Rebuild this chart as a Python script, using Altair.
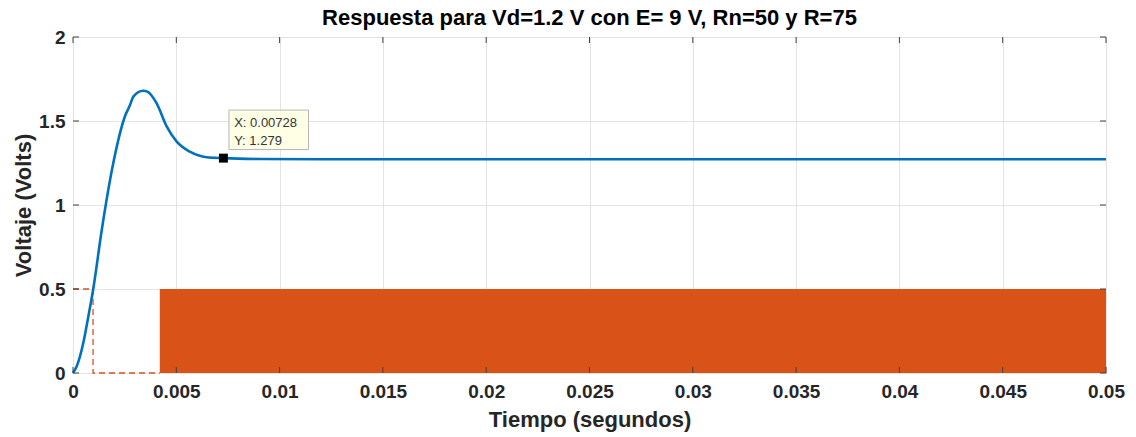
import altair as alt
import pandas as pd

# ---- data ----
resp_t = [0, 0.00018, 0.0005, 0.00074, 0.00098, 0.00139, 0.00195, 0.00252, 0.00276,
          0.00292, 0.0034, 0.0036, 0.00405, 0.00454, 0.00502, 0.00566, 0.00647,
          0.00728, 0.009, 0.012, 0.02, 0.05]
resp_v = [0, 0.04, 0.18, 0.335, 0.50, 0.85, 1.25, 1.53, 1.595,
          1.645, 1.68, 1.675, 1.605, 1.466, 1.377, 1.317, 1.284,
          1.279, 1.274, 1.272, 1.272, 1.272]

pwm_step_t = [0, 0.00097, 0.00097, 0.0042]
pwm_step_v = [0.5, 0.5, 0, 0]
pwm_fill_t = [0.0042]
pwm_fill_t2 = [0.05]
pwm_fill_lo = [0]
pwm_fill_hi = [0.5]

tip_x = [0.00728]
tip_y = [1.279]
tip_lines = ["X: 0.00728", "Y: 1.279"]
tip_line_y = [1.49, 1.38]
tip_box_x = [0.00755]
tip_box_x2 = [0.0114]
tip_box_y = [1.33]
tip_box_y2 = [1.565]
tip_text_x = [0.0078, 0.0078]

x_ticks = [0, 0.005, 0.01, 0.015, 0.02, 0.025, 0.03, 0.035, 0.04, 0.045, 0.05]
y_ticks = [0, 0.5, 1, 1.5, 2]

title = "Respuesta para Vd=1.2 V con E= 9 V, Rn=50 y R=75"
x_title = "Tiempo (segundos)"
y_title = "Voltaje (Volts)"

BLUE = "#0072BD"
ORANGE = "#D95319"
FONT = "Liberation Sans"
W, H = 1033, 336

resp = pd.DataFrame({"t": resp_t, "v": resp_v})
step = pd.DataFrame({"t": pwm_step_t, "v": pwm_step_v, "o": list(range(len(pwm_step_t)))})
fill = pd.DataFrame({"t": pwm_fill_t, "t2": pwm_fill_t2, "lo": pwm_fill_lo, "hi": pwm_fill_hi})
tip = pd.DataFrame({"t": tip_x, "v": tip_y})
tipbox = pd.DataFrame({"t": tip_box_x, "t2": tip_box_x2, "v": tip_box_y, "v2": tip_box_y2})
tiptext = pd.DataFrame({"t": tip_text_x, "v": tip_line_y, "s": tip_lines})
xt = pd.DataFrame({"t": x_ticks})
yt = pd.DataFrame({"v": y_ticks})

xscale = alt.Scale(domain=[0, 0.05], nice=False, zero=False)
yscale = alt.Scale(domain=[0, 2], nice=False)

xaxis = alt.Axis(values=x_ticks, format="~g", title=x_title, grid=True,
                 gridColor="#e3e3e3", domain=False, ticks=False, labelFlush=False,
                 labelFont=FONT, labelFontSize=19, labelFontWeight="bold",
                 labelColor="#262626", labelPadding=9,
                 titleFont=FONT, titleFontSize=22, titleFontWeight="bold",
                 titleColor="#262626", titlePadding=8)
yaxis = alt.Axis(values=y_ticks, format="~g", title=y_title, grid=True,
                 gridColor="#e3e3e3", domain=False, ticks=False, labelFlush=False,
                 labelFont=FONT, labelFontSize=19, labelFontWeight="bold",
                 labelColor="#262626", labelPadding=8,
                 titleFont=FONT, titleFontSize=22, titleFontWeight="bold",
                 titleColor="#262626", titlePadding=3)

pwm_rect = alt.Chart(fill).mark_rect(color=ORANGE).encode(
    x=alt.X("t:Q", scale=xscale, axis=xaxis), x2="t2:Q",
    y=alt.Y("lo:Q", scale=yscale, axis=yaxis), y2="hi:Q")

pwm_line = alt.Chart(step).mark_line(color=ORANGE, strokeWidth=1.3,
                                     strokeDash=[6, 4]).encode(
    x=alt.X("t:Q", scale=xscale), y=alt.Y("v:Q", scale=yscale), order="o:Q")

line = alt.Chart(resp).mark_line(color=BLUE, strokeWidth=2.6,
                                 interpolate="monotone").encode(
    x=alt.X("t:Q", scale=xscale), y=alt.Y("v:Q", scale=yscale))

box = alt.Chart(tipbox).mark_rect(fill="#FFFFE6", stroke="#b5b5b5",
                                  strokeWidth=1).encode(
    x=alt.X("t:Q", scale=xscale), x2="t2:Q",
    y=alt.Y("v:Q", scale=yscale), y2="v2:Q")

txt = alt.Chart(tiptext).mark_text(align="left", baseline="middle", font=FONT,
                                   fontSize=13, color="#333333").encode(
    x=alt.X("t:Q", scale=xscale), y=alt.Y("v:Q", scale=yscale), text="s:N")

marker = alt.Chart(tip).mark_square(size=80, color="black", opacity=1).encode(
    x=alt.X("t:Q", scale=xscale), y=alt.Y("v:Q", scale=yscale))

tick_col = "#404040"
xt_bot = alt.Chart(xt).mark_rule(color=tick_col, strokeWidth=1).encode(
    x=alt.X("t:Q", scale=xscale), y=alt.value(H), y2=alt.value(H - 6))
xt_top = alt.Chart(xt).mark_rule(color=tick_col, strokeWidth=1).encode(
    x=alt.X("t:Q", scale=xscale), y=alt.value(0), y2=alt.value(6))
yt_left = alt.Chart(yt).mark_rule(color=tick_col, strokeWidth=1).encode(
    y=alt.Y("v:Q", scale=yscale), x=alt.value(0), x2=alt.value(6))
yt_right = alt.Chart(yt).mark_rule(color=tick_col, strokeWidth=1).encode(
    y=alt.Y("v:Q", scale=yscale), x=alt.value(W), x2=alt.value(W - 6))

chart = alt.layer(
    pwm_rect, pwm_line, line, box, txt, marker, xt_bot, xt_top, yt_left, yt_right
).properties(
    width=W, height=H,
    title=alt.TitleParams(title, font=FONT, fontSize=22, fontWeight="bold",
                          color="#000000", anchor="middle", offset=-2),
    autosize=alt.AutoSizeParams(type="none"),
    padding={"left": 73, "top": 37, "right": 30, "bottom": 64},
).configure_view(stroke="#8a8a8a", strokeWidth=1).configure(background="white")

chart.save("out.html", embed_options={"renderer": "svg", "actions": False})
